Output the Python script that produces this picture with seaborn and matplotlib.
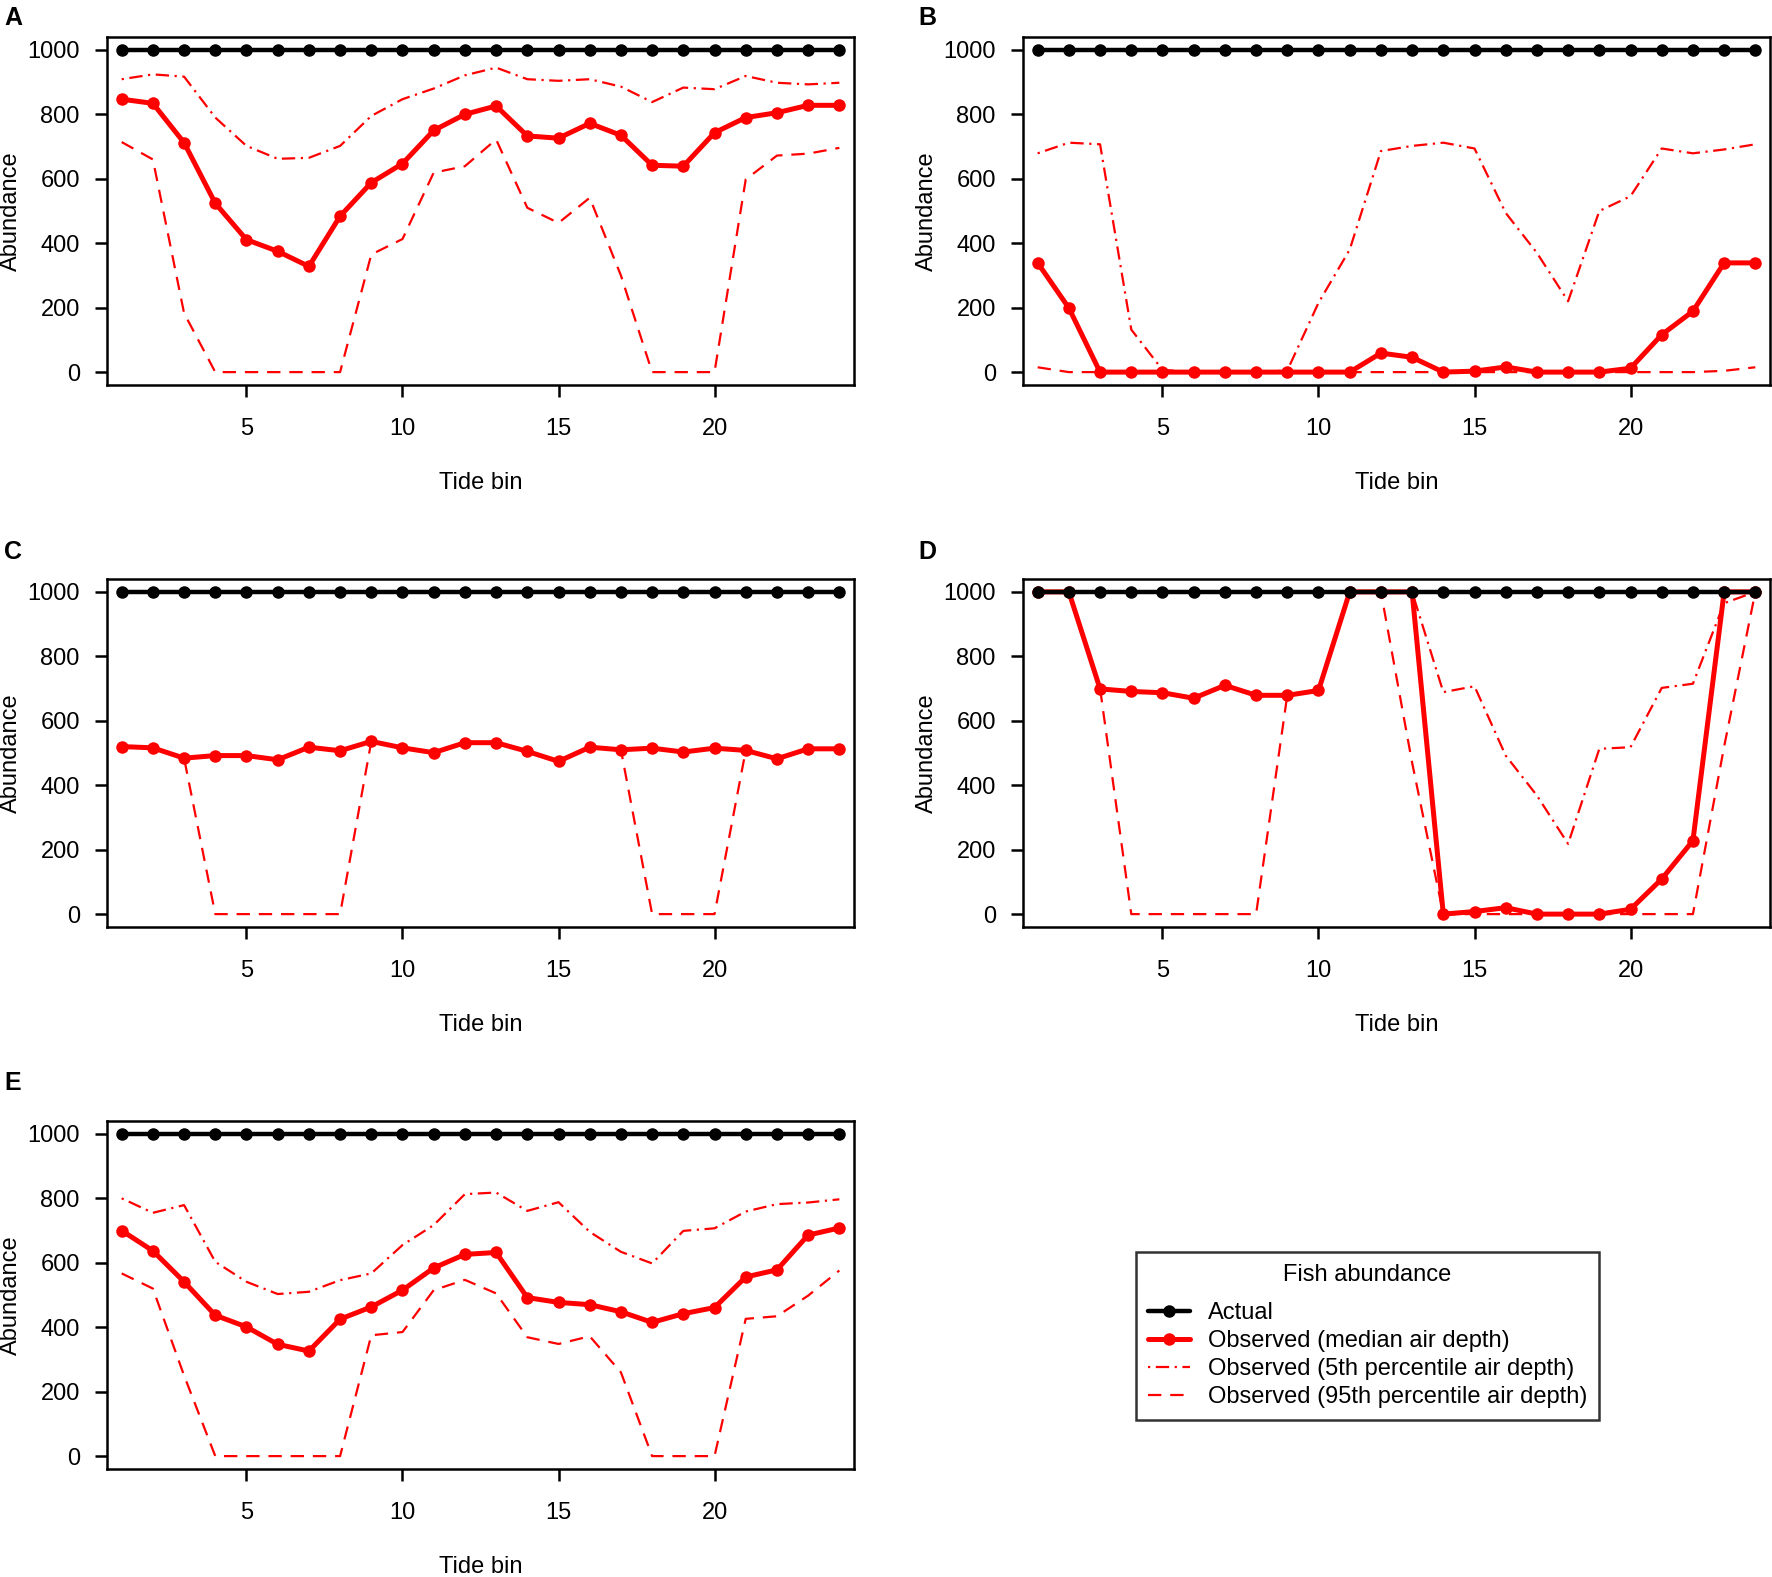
import matplotlib
matplotlib.use("Agg")
import matplotlib.pyplot as plt
import seaborn as sns
from matplotlib.lines import Line2D

sns.set_style("ticks")
plt.rcParams["font.family"] = ["Liberation Sans", "DejaVu Sans"]
plt.rcParams.update({"text.color": "black", "axes.labelcolor": "black",
                     "xtick.color": "black", "ytick.color": "black"})

# %% data
tide_bin = [1, 2, 3, 4, 5, 6, 7, 8, 9, 10, 11, 12,
            13, 14, 15, 16, 17, 18, 19, 20, 21, 22, 23, 24]
actual = [1000, 1000, 1000, 1000, 1000, 1000, 1000, 1000, 1000, 1000, 1000, 1000,
          1000, 1000, 1000, 1000, 1000, 1000, 1000, 1000, 1000, 1000, 1000, 1000]

# A
a_median = [847, 834, 712, 524, 411, 375, 328, 484, 588, 647, 750, 800,
            826, 733, 726, 772, 735, 642, 639, 743, 790, 805, 828, 828]
a_p5 = [909, 924, 917, 790, 702, 662, 665, 702, 795, 847, 880, 921,
        945, 909, 904, 909, 886, 838, 883, 878, 919, 898, 893, 898]
a_p95 = [714, 660, 183, 0, 0, 0, 0, 0, 365, 413, 619, 639,
         722, 510, 463, 541, 300, 0, 0, 0, 598, 672, 678, 696]

# B
b_median = [339, 199, 0, 0, 0, 0, 0, 0, 0, 0, 0, 59,
            46, 0, 3, 16, 0, 0, 0, 12, 116, 189, 339, 339]
b_p5 = [679, 712, 707, 132, 7, 0, 0, 0, 5, 215, 380, 686,
        702, 712, 694, 494, 370, 220, 500, 546, 694, 679, 691, 707]
b_p95 = [15, 0, 0, 0, 0, 0, 0, 0, 0, 0, 0, 0,
         0, 0, 0, 0, 0, 0, 0, 0, 0, 0, 4, 15]

# C
c_median = [520, 516, 484, 492, 492, 479, 518, 507, 536, 516, 501, 532,
            532, 505, 474, 518, 510, 515, 503, 515, 508, 482, 513, 513]
c_p5 = [520, 516, 484, 492, 492, 479, 518, 507, 536, 516, 501, 532,
        532, 505, 474, 518, 510, 515, 503, 515, 508, 482, 513, 513]
c_p95 = [520, 516, 484, 0, 0, 0, 0, 0, 536, 516, 501, 532,
         532, 505, 474, 518, 510, 0, 0, 0, 508, 482, 513, 513]

# D
d_median = [1000, 1000, 699, 691, 687, 670, 710, 679, 679, 694, 1000, 1000,
            1000, 0, 8, 20, 0, 0, 0, 15, 109, 228, 1000, 1000]
d_p5 = [1000, 1000, 1000, 1000, 1000, 1000, 1000, 1000, 1000, 1000, 1000, 1000,
        1000, 689, 707, 492, 368, 218, 513, 518, 702, 715, 965, 1000]
d_p95 = [1000, 1000, 700, 0, 0, 0, 0, 0, 680, 694, 1000, 1000,
         470, 0, 0, 0, 0, 0, 0, 0, 0, 0, 520, 1000]

# E
e_median = [700, 637, 541, 437, 401, 347, 326, 425, 463, 515, 584, 626,
            632, 492, 477, 470, 448, 415, 442, 461, 556, 578, 686, 708]
e_p5 = [800, 755, 779, 603, 541, 503, 510, 546, 567, 655, 717, 813,
        818, 761, 788, 696, 634, 598, 699, 707, 759, 782, 787, 797]
e_p95 = [567, 520, 250, 0, 0, 0, 0, 0, 375, 385, 515, 547,
         505, 369, 348, 372, 260, 0, 0, 0, 426, 434, 498, 576]

panels = [
    ("A", a_median, a_p5, a_p95),
    ("B", b_median, b_p5, b_p95),
    ("C", c_median, c_p5, c_p95),
    ("D", d_median, d_p5, d_p95),
    ("E", e_median, e_p5, e_p95),
]

# %% layout (figure fractions)
W, H = 1772, 1577
col_left = [107 / W, 1023 / W]
row_bottom = [1192 / H, 650 / H, 108 / H]
ax_w, ax_h = 747 / W, 348 / H
letter_top = [6 / H, 540 / H, 1071 / H]

FS = 17
MS = 9
dash = (0, (6, 4))
dotdash = (0, (1, 2.5, 6, 2.5))

fig = plt.figure(figsize=(W / 100, H / 100), dpi=100)

for i, (letter, med, p5, p95) in enumerate(panels):
    r, c = divmod(i, 2)
    ax = fig.add_axes([col_left[c], row_bottom[r], ax_w, ax_h])

    sns.lineplot(x=tide_bin, y=p5, ax=ax, color="red", linewidth=1.6,
                 linestyle=dotdash)
    sns.lineplot(x=tide_bin, y=p95, ax=ax, color="red", linewidth=1.6,
                 linestyle=dash)
    sns.lineplot(x=tide_bin, y=med, ax=ax, color="red", linewidth=3.6,
                 marker="o", markersize=MS, markeredgewidth=0)
    sns.lineplot(x=tide_bin, y=actual, ax=ax, color="black", linewidth=3.2,
                 marker="o", markersize=MS, markeredgewidth=0)

    ax.set_xlim(0.53, 24.47)
    ax.set_ylim(-40, 1040)
    ax.set_xticks([5, 10, 15, 20])
    ax.set_yticks([0, 200, 400, 600, 800, 1000])
    ax.tick_params(axis="both", labelsize=FS, length=8.6, width=1.8,
                   color="black", labelcolor="black")
    ax.tick_params(axis="x", pad=15)
    ax.tick_params(axis="y", pad=11)
    for s in ax.spines.values():
        s.set_visible(True)
        s.set_linewidth(1.8)
        s.set_color("black")

    ax.set_xlabel("Tide bin", fontsize=FS, color="black")
    ax.set_ylabel("Abundance", fontsize=FS, color="black")
    ax.xaxis.set_label_coords(0.5, -0.25)
    ax.yaxis.set_label_coords(-0.114, 0.5)

    fig.text(col_left[c] - 105 / W + (2 / W if c == 0 else 0),
             1 - letter_top[r], letter, fontsize=18, fontweight="bold",
             color="black", ha="left", va="top")

# %% legend
handles = [
    Line2D([], [], color="black", linewidth=3.2, marker="o", markersize=MS,
           markeredgewidth=0),
    Line2D([], [], color="red", linewidth=3.6, marker="o", markersize=MS,
           markeredgewidth=0),
    Line2D([], [], color="red", linewidth=1.6, linestyle=dotdash),
    Line2D([], [], color="red", linewidth=1.6, linestyle=dash),
]
labels = ["Actual", "Observed (median air depth)",
          "Observed (5th percentile air depth)",
          "Observed (95th percentile air depth)"]
leg = fig.legend(handles, labels, title="Fish abundance", fontsize=FS,
                 title_fontsize=FS, loc="upper left",
                 bbox_to_anchor=(1136 / W, 1 - 1252 / H),
                 frameon=True, fancybox=False, edgecolor="black",
                 handlelength=1.8, handletextpad=0.75, labelspacing=0.25,
                 borderpad=0.5, borderaxespad=0, labelcolor="black")
leg.get_title().set_color("black")
leg._legend_box.sep = 12
leg.get_frame().set_linewidth(1.8)

fig.savefig("out.png", dpi=100, facecolor="white")
